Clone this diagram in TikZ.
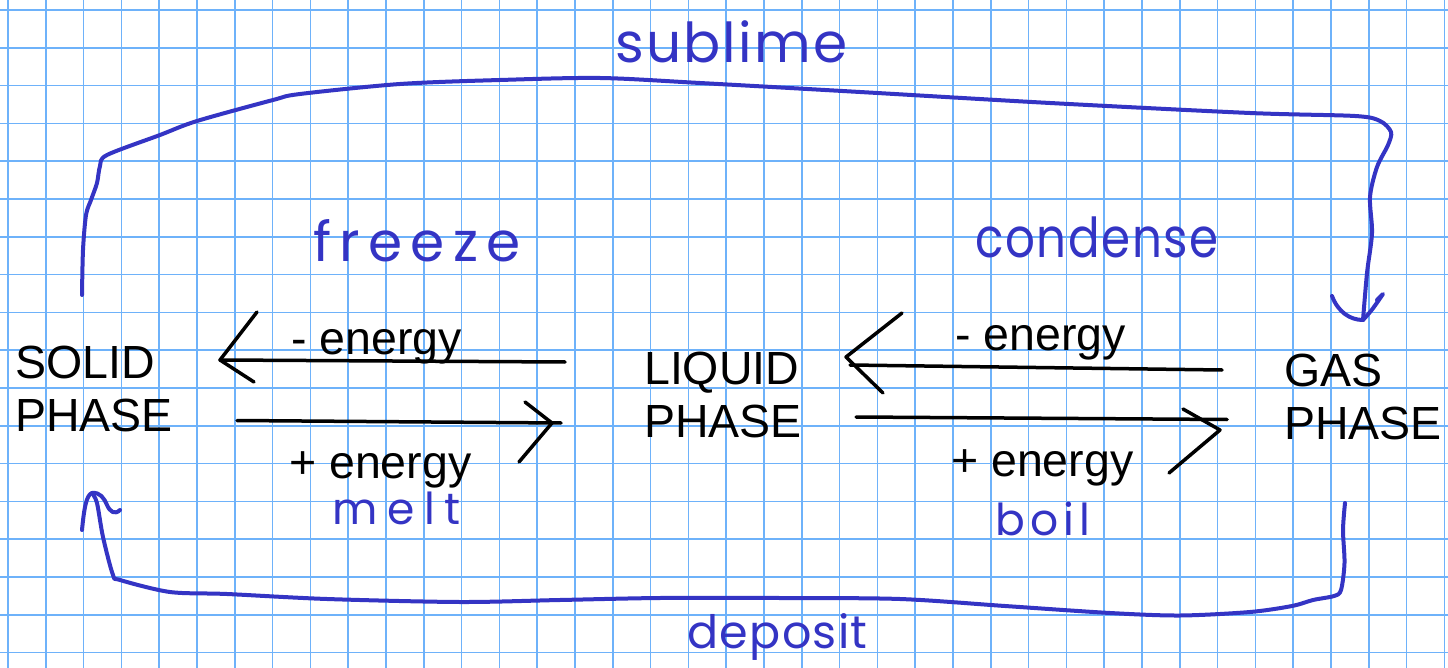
\documentclass[tikz,border=0pt]{standalone}
\usepackage{fontspec}
\setmainfont{Liberation Sans}
\newfontfamily\handfont{Poppins}
\definecolor{gridblue}{RGB}{110,178,250}
\definecolor{ink}{RGB}{52,52,196}
\begin{document}
\begin{tikzpicture}[x=1pt,y=-1pt,
  phase/.style={font=\fontsize{46.5}{53}\selectfont, align=left, inner sep=0pt, anchor=north west, text=black},
  energy/.style={font=\fontsize{46.5}{53}\selectfont, inner sep=0pt, anchor=base west, text=black},
  hand/.style={text=ink, inner sep=0pt, anchor=base west},
  blackpen/.style={line width=3.5pt, line cap=round, line join=round, black},
  bluepen/.style={line width=4pt, line cap=round, line join=round, ink},
  gridline/.style={gridblue, line width=1.7pt}]
\useasboundingbox (0,0) rectangle (1448,668);
\fill[white] (0,0) rectangle (1448,668);
% grid paper
\foreach \i in {0,...,38} \draw[gridline] ({8+37.8*\i},0) -- ({8+37.8*\i},668);
\foreach \j in {0,...,17} \draw[gridline] (0,{10+37.8*\j}) -- (1448,{10+37.8*\j});

% phases
\node[phase] (solid) at (15,346) {SOLID\\PHASE};
\node[phase] (liquid) at (644,352) {LIQUID\\PHASE};
\node[phase] (gas) at (1284,354) {GAS\\PHASE};

% energy labels
\node[energy] (e1) at (291,354) {- energy};
\node[energy] (e2) at (289,478) {+ energy};
\node[energy] (e3) at (955,350) {- energy};
\node[energy] (e4) at (951,476) {+ energy};

% handwritten labels
\node[hand, font=\handfont\addfontfeatures{LetterSpace=4}\fontsize{55}{60}\selectfont] (sublime) at (615,63) {sublime};
\node[hand, font=\handfont\addfontfeatures{LetterSpace=15}\fontsize{55}{60}\selectfont] (freeze) at (313,262) {freeze};
\node[hand, font=\handfont\addfontfeatures{LetterSpace=3,FakeStretch=0.85}\fontsize{55}{60}\selectfont] (condense) at (975,258) {condense};
\node[hand, font=\handfont\addfontfeatures{LetterSpace=22}\fontsize{44}{48}\selectfont] (melt) at (332,524) {melt};
\node[hand, font=\handfont\addfontfeatures{LetterSpace=12}\fontsize{44}{48}\selectfont] (boil) at (995,535) {boil};
\node[hand, font=\handfont\addfontfeatures{LetterSpace=3}\fontsize{46}{50}\selectfont] (deposit) at (687,648) {deposit};

% freeze arrow (liquid -> solid)
\coordinate (fzS) at (565,362); \coordinate (fzE) at (220,360);
\draw[blackpen] (fzS) -- (fzE);
\draw[blackpen] (257,312) -- (fzE) -- (254,382);
% melt arrow (solid -> liquid)
\coordinate (mtS) at (237,420.5); \coordinate (mtE) at (561,423);
\draw[blackpen] (mtS) -- (mtE);
\draw[blackpen] (525,402) -- (552,423) -- (519,462);
% condense arrow (gas -> liquid)
\coordinate (cdS) at (1222,370); \coordinate (cdE) at (850,365);
\draw[blackpen] (cdS) -- (cdE);
\draw[blackpen] (902,313) -- (846,357) -- (883,393);
% boil arrow (liquid -> gas)
\coordinate (blS) at (856,417); \coordinate (blE) at (1227,419.5);
\draw[blackpen] (blS) -- (blE);
\draw[blackpen] (1183,409) -- (1220,430) -- (1169,473);

% sublime (solid -> gas)
\coordinate (sbS) at (82,295); \coordinate (sbE) at (1363,320);
\draw[bluepen] plot[smooth, tension=0.5] coordinates {(82,295) (83,250) (86,215) (91,200) (97,183) (100,166) (107,155) (160,135) (197,121) (273,100) (300,94) (400,84) (500,80) (600,78) (700,83) (860,92) (1050,103) (1250,113) (1355,116) (1380,121) (1391,132) (1388,145) (1377,167) (1370,197) (1372,233) (1367,273) (1363,320)};
\draw[bluepen] (1332,296) .. controls (1338,312) and (1350,320) .. (sbE) .. controls (1372,310) .. (1383,294) -- (1377,300);

% deposit (gas -> solid)
\coordinate (dpS) at (1345,503); \coordinate (dpE) at (92,493);
\draw[bluepen] plot[smooth, tension=0.5] coordinates {(1345,503) (1343,530) (1344.5,563) (1341,590) (1334,596) (1313,600) (1292,606) (1250,612) (1180,615.5) (1110,613) (1005,606) (900,599) (780,598) (660,598) (560,600) (460,602) (327,599) (227,594) (170,592) (120,580) (113,575) (103,537) (97,503) (92,493)};
\draw[bluepen] (82,530) .. controls (84,510) and (86,495) .. (dpE) .. controls (100,492) and (104,498) .. (107,505) .. controls (110,512) and (115,515) .. (120,510);
\end{tikzpicture}
\end{document}
